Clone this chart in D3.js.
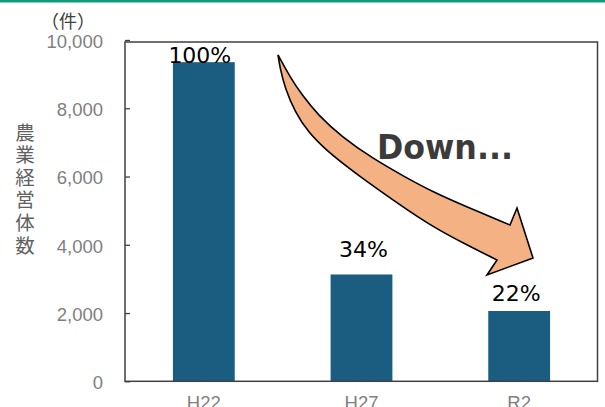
<!DOCTYPE html>
<html>
<head>
<meta charset="utf-8">
<script src="https://cdn.jsdelivr.net/npm/d3@7"></script>
<style>
  body { margin: 0; background: #fff; }
  svg { display: block; }
</style>
</head>
<body>
<div id="chart"></div>
<script>
// data
const categories = ['H22', 'H27', 'R2'];
const values = [9350, 3130, 2060];
const percents = ['100%', '34%', '22%'];
const yTicks = [0, 2000, 4000, 6000, 8000, 10000];
const yTitle = '農業経営体数';

const width = 605, height = 407;
const margin = {top: 42, right: 7, bottom: 26, left: 125};

const svg = d3.select('#chart').append('svg')
  .attr('width', width)
  .attr('height', height);

// green rule on top
svg.append('rect')
  .attr('x', 0).attr('y', 0)
  .attr('width', width).attr('height', 2.5)
  .attr('fill', '#119a7b');

const x = d3.scaleBand()
  .domain(categories)
  .range([margin.left, width - margin.right])
  .paddingInner(0.608)
  .paddingOuter(0.304);

const y = d3.scaleLinear()
  .domain([0, 10000])
  .range([381.3, 40]);

// bars
svg.append('g')
  .selectAll('rect')
  .data(values)
  .enter()
  .append('rect')
  .attr('x', (d, i) => x(categories[i]))
  .attr('y', d => y(d))
  .attr('width', x.bandwidth())
  .attr('height', d => y(0) - y(d))
  .attr('fill', '#1a5d80');

// y axis with inward ticks
const yAxis = svg.append('g')
  .attr('transform', `translate(${margin.left},0)`)
  .call(d3.axisLeft(y).tickValues(yTicks).tickSize(-5).tickPadding(22)
    .tickFormat(d3.format(',')));
yAxis.select('.domain').remove();
yAxis.selectAll('line').attr('stroke', '#404040').attr('stroke-width', 1.3);
yAxis.selectAll('text')
  .attr('fill', '#808080')
  .style('font-family', '"Liberation Sans", Arial, sans-serif')
  .style('font-size', '18.5px')
  .attr('dy', '0.4em');

// x labels (cut off by the bottom edge, as in the source)
svg.append('g')
  .selectAll('text')
  .data(categories)
  .enter()
  .append('text')
  .attr('x', d => x(d) + x.bandwidth() / 2)
  .attr('y', 409)
  .attr('text-anchor', 'middle')
  .attr('fill', '#808080')
  .style('font-family', '"Liberation Sans", Arial, sans-serif')
  .style('font-size', '18.5px')
  .text(d => d);

// frame
svg.append('rect')
  .attr('x', margin.left)
  .attr('y', margin.top)
  .attr('width', width - margin.left - margin.right - 0.5)
  .attr('height', y(0) - margin.top)
  .attr('fill', 'none')
  .attr('stroke', '#404040')
  .attr('stroke-width', 1.5);

// percent labels
const labelShift = [[-4, 1], [2, -17], [-3, -10]];
svg.append('g')
  .selectAll('text')
  .data(percents)
  .enter()
  .append('text')
  .attr('x', (d, i) => x(categories[i]) + x.bandwidth() / 2 + labelShift[i][0])
  .attr('y', (d, i) => y(values[i]) + labelShift[i][1])
  .attr('text-anchor', 'middle')
  .attr('fill', '#000')
  .style('font-family', '"DejaVu Sans", Verdana, sans-serif')
  .style('font-size', '22px')
  .text(d => d);

// y title (vertical, stacked characters)
svg.append('g')
  .selectAll('text')
  .data(yTitle.split(''))
  .enter()
  .append('text')
  .attr('x', 25)
  .attr('y', (d, i) => 131 + i * 22.6)
  .attr('text-anchor', 'middle')
  .attr('dominant-baseline', 'central')
  .attr('fill', '#606060')
  .style('font-family', '"Noto Sans CJK JP", sans-serif')
  .style('font-size', '19.5px')
  .text(d => d);

// unit
svg.append('text')
  .attr('x', 68)
  .attr('y', 20)
  .attr('text-anchor', 'middle')
  .attr('dominant-baseline', 'central')
  .attr('fill', '#404040')
  .style('font-family', '"Noto Sans CJK JP", sans-serif')
  .style('font-size', '18px')
  .text('（件）');

// curved "down" arrow
const upperEdge = [[278, 55], [290, 77], [302, 95], [318, 115], [342, 137], [372, 158],
  [405, 177], [433, 192], [467, 207], [510, 225]];
const arrowHead = [[517, 208], [533, 258], [487, 275]];
const lowerEdge = [[497, 260], [467, 245], [433, 227], [400, 205], [355, 173],
  [328, 152], [308, 132], [295, 112], [285, 88], [280, 68], [278, 55]];
const edge = d3.line().curve(d3.curveBasis);
const arrowPath = edge(upperEdge)
  + arrowHead.map(p => `L${p[0]},${p[1]}`).join('')
  + edge(lowerEdge).replace(/^M/, 'L') + 'Z';
svg.append('path')
  .attr('d', arrowPath)
  .attr('fill', '#f4b183')
  .attr('stroke', '#000')
  .attr('stroke-width', 1.6)
  .attr('stroke-linejoin', 'miter');

svg.append('text')
  .attr('x', 377)
  .attr('y', 159)
  .attr('fill', '#3b3b3b')
  .attr('textLength', 136)
  .attr('lengthAdjust', 'spacingAndGlyphs')
  .style('font-family', '"DejaVu Sans", Verdana, sans-serif')
  .style('font-weight', 'bold')
  .style('font-size', '34px')
  .text('Down...');
</script>
</body>
</html>
